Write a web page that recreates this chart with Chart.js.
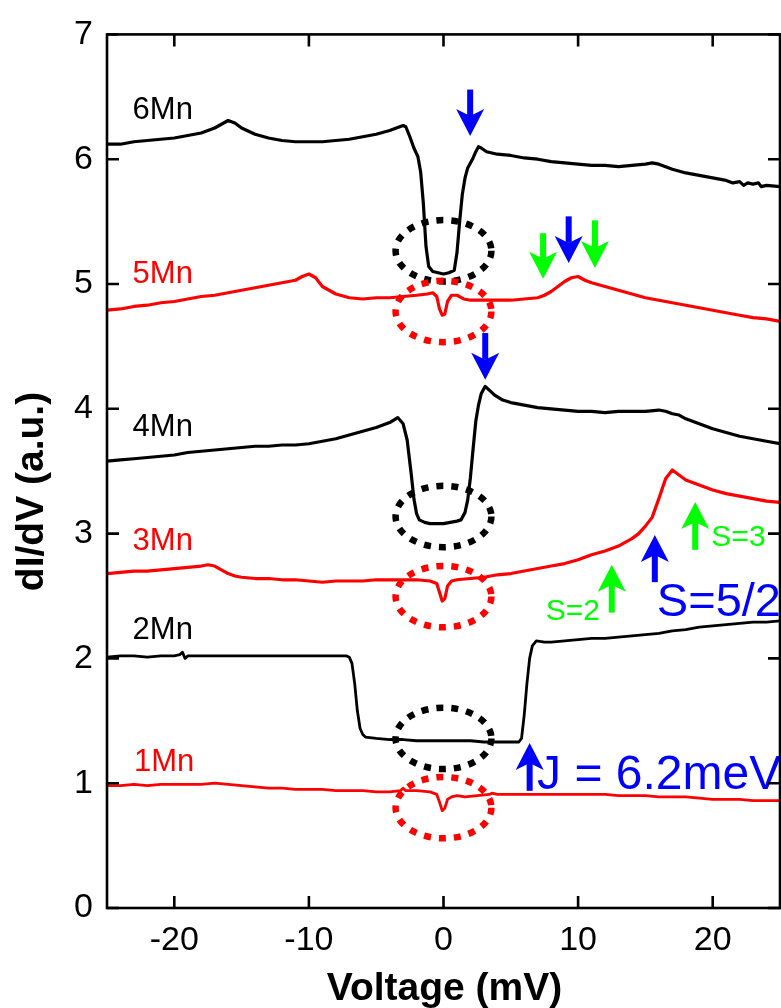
<!DOCTYPE html>
<html>
<head>
<meta charset="utf-8">
<script src="https://cdn.jsdelivr.net/npm/chart.js@4.4.1/dist/chart.umd.min.js"></script>
<style>
  html, body { margin: 0; padding: 0; background: #ffffff; }
  #c { display: block; }
</style>
</head>
<body>
<canvas id="c" width="781" height="1008"></canvas>
<script>
// dI/dV spectra of Mn chains (1Mn ... 6Mn), vertically offset
const xTicks = [-20, -10, 0, 10, 20];
const yTicks = [0, 1, 2, 3, 4, 5, 6, 7];

const v6 = [-25,-24,-23,-22,-21,-20,-19,-18,-17,-16.5,-16,-15.5,-15,-14,-13,-12,-11,-10,-9,-8,-7,-6,-5,-4,-3.5,-3,-2.8,-2.5,-2.2,-1.9,-1.7,-1.5,-1.3,-1.1,-0.8,-0.4,0,0.4,0.8,1.0,1.2,1.4,1.6,1.8,2.0,2.2,2.4,2.6,2.8,3.2,3.6,4,5,6,7,8,9,10,11,12,13,14,15,15.5,16,16.5,17,18,19,20,21,21.5,22,22.3,22.6,23,23.4,23.6,24,25];
const g6 = [6.12,6.12,6.14,6.15,6.16,6.17,6.19,6.21,6.25,6.28,6.31,6.29,6.25,6.20,6.17,6.15,6.14,6.14,6.14,6.15,6.16,6.18,6.20,6.23,6.25,6.27,6.26,6.18,6.09,6.02,5.90,5.65,5.30,5.14,5.10,5.09,5.08,5.09,5.11,5.25,5.50,5.72,5.85,5.93,5.97,6.01,6.06,6.10,6.09,6.06,6.05,6.04,6.03,6.01,6.00,5.98,5.97,5.96,5.95,5.95,5.94,5.95,5.96,5.97,5.96,5.94,5.92,5.89,5.87,5.85,5.83,5.81,5.82,5.79,5.81,5.80,5.81,5.78,5.79,5.78];

const v5 = [-25,-24,-23,-22,-21,-20,-19,-18,-17,-16,-15,-14,-13,-12,-11,-10.5,-10,-9.5,-9,-8,-7,-6,-5,-4,-3,-2,-1.2,-0.8,-0.5,-0.3,-0.1,0.1,0.3,0.6,1.0,1.5,2,3,4,5,6,7,7.5,8,8.5,9,9.5,10,10.5,11,12,13,14,15,16,17,18,19,20,21,22,23,24,25];
const g5 = [4.79,4.80,4.82,4.83,4.85,4.86,4.88,4.90,4.91,4.93,4.95,4.97,4.99,5.01,5.03,5.06,5.08,5.05,4.98,4.92,4.89,4.88,4.89,4.89,4.90,4.91,4.92,4.93,4.90,4.80,4.75,4.76,4.86,4.91,4.91,4.88,4.87,4.87,4.87,4.87,4.88,4.89,4.91,4.94,4.98,5.02,5.05,5.06,5.03,5.01,4.98,4.95,4.92,4.89,4.87,4.85,4.83,4.81,4.79,4.77,4.75,4.73,4.72,4.70];

const v4 = [-25,-24,-23,-22,-21,-20,-19,-18,-17,-16,-15,-14,-13,-12,-11,-10,-9,-8,-7,-6,-5,-4,-3.4,-3.0,-2.7,-2.4,-2.2,-2.0,-1.8,-1.4,-1,0,1,1.3,1.6,1.8,2.0,2.2,2.4,2.6,2.8,3.1,3.4,3.8,4.4,5,6,7,8,9,10,11,12,13,14,15,16,16.5,17,17.5,18,18.5,19,20,21,22,23,24,25];
const g4 = [3.58,3.59,3.60,3.61,3.62,3.63,3.65,3.66,3.67,3.68,3.69,3.70,3.70,3.71,3.71,3.72,3.74,3.76,3.79,3.82,3.85,3.89,3.93,3.88,3.75,3.48,3.28,3.16,3.11,3.09,3.08,3.08,3.10,3.11,3.17,3.27,3.45,3.68,3.90,4.03,4.12,4.18,4.15,4.11,4.07,4.05,4.03,4.01,4.00,3.99,3.98,3.98,3.97,3.98,3.98,3.98,3.99,3.98,3.96,3.95,3.92,3.90,3.88,3.84,3.81,3.78,3.76,3.74,3.72];

const v3 = [-25,-24,-23,-22,-21,-20,-19,-18,-17.5,-17,-16.5,-16,-15.5,-15,-14,-13,-12,-11,-10,-9,-8,-7,-6,-5,-4,-3,-2,-1,-0.5,-0.3,-0.1,0.1,0.3,0.6,1,2,3,4,5,6,7,8,9,10,11,12,13,13.5,14,14.5,15,15.5,16,16.5,17,17.5,18,19,20,21,22,23,24,25];
const g3 = [2.68,2.69,2.70,2.70,2.71,2.72,2.73,2.74,2.75,2.74,2.71,2.68,2.66,2.65,2.64,2.64,2.63,2.63,2.62,2.61,2.62,2.62,2.62,2.63,2.63,2.63,2.63,2.62,2.60,2.53,2.46,2.48,2.58,2.62,2.63,2.64,2.65,2.67,2.68,2.70,2.72,2.74,2.76,2.79,2.83,2.86,2.90,2.93,2.96,3.00,3.06,3.13,3.28,3.44,3.51,3.47,3.43,3.39,3.35,3.32,3.30,3.28,3.26,3.25];

const v2 = [-25,-24,-23,-22,-21,-20,-19.6,-19.4,-19.2,-19,-18,-17,-16,-15,-14,-13,-12,-11,-10,-9,-8,-7.2,-7.0,-6.8,-6.6,-6.4,-6.2,-6.0,-5.8,-5,-4,-3,-2,-1,0,1,2,3,4,5,5.6,5.8,6.0,6.2,6.4,6.6,6.9,7.5,8,9,10,11,12,13,14,15,16,17,18,19,20,21,22,23,24,25];
const g2 = [2.01,2.02,2.02,2.01,2.02,2.02,2.03,2.05,2.00,2.02,2.02,2.02,2.02,2.02,2.02,2.02,2.02,2.02,2.02,2.02,2.02,2.02,2.01,1.96,1.80,1.58,1.44,1.39,1.37,1.36,1.35,1.35,1.34,1.34,1.34,1.34,1.34,1.33,1.33,1.33,1.33,1.36,1.55,1.80,2.00,2.10,2.14,2.13,2.13,2.14,2.15,2.16,2.16,2.17,2.18,2.19,2.20,2.22,2.23,2.25,2.26,2.27,2.28,2.29,2.29,2.30];

const v1 = [-25,-24,-23,-22,-21,-20,-19,-18,-17,-16,-15,-14,-13,-12,-11,-10,-9,-8,-7,-6,-5,-4,-3.2,-3.0,-2.8,-2,-1,-0.5,-0.3,-0.1,0.1,0.3,0.6,1,1.6,2.5,3.4,3.6,4,5,6,7,8,9,10,11,12,13,14,15,16,17,18,19,20,21,22,23,24,25];
const g1 = [0.98,0.98,0.99,0.98,0.99,0.99,0.99,0.99,1.00,0.99,0.98,0.97,0.96,0.96,0.95,0.95,0.95,0.94,0.94,0.94,0.93,0.93,0.94,0.96,0.94,0.94,0.93,0.91,0.85,0.78,0.80,0.87,0.89,0.90,0.89,0.90,0.91,0.92,0.91,0.91,0.91,0.91,0.91,0.91,0.91,0.91,0.91,0.90,0.90,0.90,0.89,0.89,0.89,0.88,0.87,0.87,0.87,0.86,0.86,0.86];

const seriesNames = ['6Mn', '5Mn', '4Mn', '3Mn', '2Mn', '1Mn'];
const seriesX = [v6, v5, v4, v3, v2, v1];
const seriesY = [g6, g5, g4, g3, g2, g1];
const seriesColors = ['#000000', '#ff0000', '#000000', '#ff0000', '#000000', '#ff0000'];
const seriesWidths = [3.2, 3.2, 3.2, 3.2, 2.8, 2.8];

// curve labels (data coordinates: left edge, baseline)
const labelX = [-23.1, -23.1, -23.1, -23.1, -23.1, -23.0];
const labelY = [6.32, 5.01, 3.78, 2.87, 2.156, 1.098];

// dotted ellipses marking the zero-bias region
const ellipseY = [5.266, 4.78, 3.137, 2.495, 1.359, 0.804];
const ellipseColors = ['#000000', '#ff0000', '#000000', '#ff0000', '#000000', '#ff0000'];
const ellipseRx = 3.56, ellipseRy = 0.246;

// arrows: x, tail y, tip y, colour
const arrows = [
  [1.98, 6.558, 6.185, '#0000ff'],
  [7.4, 5.407, 5.042, '#00ff00'],
  [9.3, 5.542, 5.169, '#0000ff'],
  [11.25, 5.51, 5.129, '#00ff00'],
  [3.1, 4.607, 4.233, '#0000ff'],
  [12.5, 2.367, 2.751, '#00ff00'],
  [15.7, 2.611, 2.989, '#0000ff'],
  [18.7, 2.87, 3.254, '#00ff00'],
  [6.4, 0.939, 1.322, '#0000ff']
];

// text notes: text, x, y (baseline), font px, colour
const notes = [
  ['S=3', 19.9, 2.897, 30, '#00ff00'],
  ['S=2', 7.6, 2.304, 30, '#00ff00'],
  ['S=5/2', 15.85, 2.336, 47, '#0000ff'],
  ['J = 6.2meV', 6.95, 0.955, 48, '#0000ff']
];

const FONT = '"Liberation Sans", Arial, Helvetica, sans-serif';

const datasets = seriesNames.map((name, i) => ({
  label: name,
  data: seriesX[i].map((vx, k) => ({ x: vx, y: seriesY[i][k] })),
  borderColor: seriesColors[i],
  borderWidth: seriesWidths[i],
  borderJoinStyle: 'round',
  pointRadius: 0,
  tension: 0,
  fill: false
}));

function drawArrow(ctx, px, tailY, tipY, color) {
  const dir = Math.sign(tipY - tailY);
  const headLen = 27, halfW = 14, notch = 7, shaftW = 6;
  const neck = tipY - dir * (headLen - notch);
  ctx.fillStyle = color;
  ctx.fillRect(px - shaftW / 2, Math.min(tailY, neck), shaftW, Math.abs(neck - tailY));
  ctx.beginPath();
  ctx.moveTo(px, tipY);
  ctx.lineTo(px - halfW, tipY - dir * headLen);
  ctx.lineTo(px, neck);
  ctx.lineTo(px + halfW, tipY - dir * headLen);
  ctx.closePath();
  ctx.fill();
}

const overlay = {
  id: 'overlay',
  afterDatasetsDraw(chart) {
    const { ctx, scales: { x, y } } = chart;
    ctx.save();
    // dotted ellipses
    ctx.lineWidth = 6.5;
    ctx.setLineDash([7, 8]);
    ellipseY.forEach((ey, i) => {
      const cx = x.getPixelForValue(0), cy = y.getPixelForValue(ey);
      const rx = Math.abs(x.getPixelForValue(ellipseRx) - cx);
      const ry = Math.abs(y.getPixelForValue(ey + ellipseRy) - cy);
      ctx.strokeStyle = ellipseColors[i];
      ctx.beginPath();
      ctx.ellipse(cx, cy, rx, ry, 0, 0, Math.PI * 2);
      ctx.stroke();
    });
    ctx.setLineDash([]);
    // arrows
    arrows.forEach(a => drawArrow(ctx, x.getPixelForValue(a[0]), y.getPixelForValue(a[1]), y.getPixelForValue(a[2]), a[3]));
    // curve labels
    ctx.textAlign = 'left';
    ctx.textBaseline = 'alphabetic';
    ctx.font = '31px ' + FONT;
    seriesNames.forEach((n, i) => {
      ctx.fillStyle = seriesColors[i];
      ctx.fillText(n, x.getPixelForValue(labelX[i]), y.getPixelForValue(labelY[i]));
    });
    notes.forEach(n => {
      ctx.font = n[3] + 'px ' + FONT;
      ctx.fillStyle = n[4];
      ctx.fillText(n[0], x.getPixelForValue(n[1]), y.getPixelForValue(n[2]));
    });
    ctx.restore();
  },
  afterDraw(chart) {
    const { ctx, chartArea: a, scales: { x, y } } = chart;
    ctx.save();
    ctx.strokeStyle = '#000000';
    ctx.lineWidth = 2.6;
    ctx.strokeRect(a.left, a.top, a.right - a.left, a.bottom - a.top);
    const tl = 12;
    ctx.beginPath();
    xTicks.forEach(v => {
      const px = x.getPixelForValue(v);
      ctx.moveTo(px, a.bottom); ctx.lineTo(px, a.bottom - tl);
      ctx.moveTo(px, a.top); ctx.lineTo(px, a.top + tl);
    });
    yTicks.forEach(v => {
      const py = y.getPixelForValue(v);
      ctx.moveTo(a.left, py); ctx.lineTo(a.left + tl, py);
      ctx.moveTo(a.right, py); ctx.lineTo(a.right - tl, py);
    });
    ctx.stroke();
    // axis titles
    ctx.fillStyle = '#000000';
    ctx.font = 'bold 39px ' + FONT;
    ctx.textAlign = 'center';
    ctx.textBaseline = 'alphabetic';
    ctx.fillText('Voltage (mV)', (a.left + a.right) / 2 + 1, 1000);
    ctx.translate(43, 491.5);
    ctx.rotate(-Math.PI / 2);
    ctx.fillText('dI/dV (a.u.)', 0, 0);
    ctx.restore();
  }
};

new Chart(document.getElementById('c'), {
  type: 'line',
  data: { datasets },
  options: {
    responsive: false,
    animation: false,
    events: [],
    layout: { padding: { top: 25, right: 1, left: 0, bottom: 0 } },
    plugins: { legend: { display: false }, tooltip: { enabled: false } },
    scales: {
      x: {
        type: 'linear',
        min: -25, max: 25,
        afterBuildTicks: s => { s.ticks = xTicks.map(v => ({ value: v })); },
        afterFit: s => { s.height = 100; },
        grid: { display: false, drawTicks: false },
        border: { display: false },
        ticks: { color: '#000000', font: { family: FONT, size: 34 }, padding: 12, maxRotation: 0, autoSkip: false }
      },
      y: {
        type: 'linear',
        min: 0, max: 7,
        afterBuildTicks: s => { s.ticks = yTicks.map(v => ({ value: v })); },
        afterFit: s => { s.width = 107; },
        grid: { display: false, drawTicks: false },
        border: { display: false },
        ticks: { color: '#000000', font: { family: FONT, size: 34 }, padding: 14, autoSkip: false }
      }
    }
  },
  plugins: [overlay]
});
</script>
</body>
</html>
